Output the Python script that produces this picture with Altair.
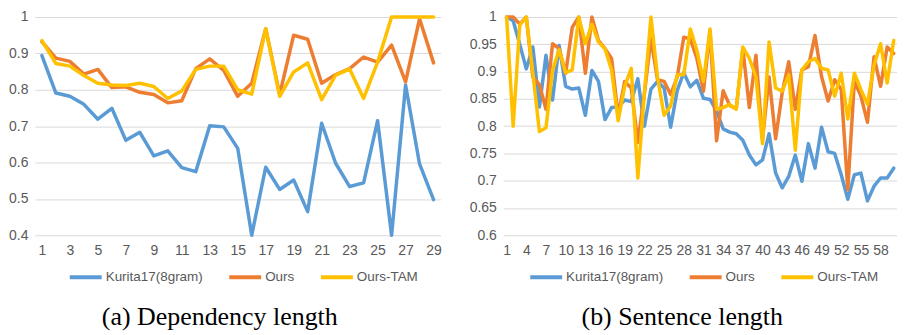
import altair as alt
import pandas as pd

series_names = ["Kurita17(8gram)", "Ours", "Ours-TAM"]
series_colors = ["#5B9BD5", "#ED7D31", "#FFC000"]

# (a) Dependency length
dep_x = list(range(1, 30))
dep_kurita = [0.894, 0.791, 0.782, 0.760, 0.719, 0.749, 0.661, 0.683, 0.618, 0.632,
              0.586, 0.575, 0.701, 0.698, 0.639, 0.400, 0.587, 0.526, 0.552, 0.465,
              0.708, 0.598, 0.534, 0.544, 0.715, 0.400, 0.813, 0.596, 0.498]
dep_ours = [0.932, 0.887, 0.878, 0.843, 0.856, 0.806, 0.808, 0.793, 0.787, 0.764,
            0.770, 0.858, 0.885, 0.853, 0.782, 0.818, 0.968, 0.787, 0.950, 0.939,
            0.818, 0.842, 0.858, 0.890, 0.876, 0.923, 0.822, 0.995, 0.874]
dep_tam = [0.935, 0.872, 0.865, 0.839, 0.818, 0.813, 0.812, 0.818, 0.809, 0.776,
           0.797, 0.856, 0.865, 0.865, 0.800, 0.788, 0.968, 0.782, 0.849, 0.874,
           0.773, 0.840, 0.857, 0.776, 0.876, 1.000, 1.000, 1.000, 1.000]
dep_x_ticks = list(range(1, 30, 2))
dep_y_ticks = [0.4, 0.5, 0.6, 0.7, 0.8, 0.9, 1.0]

# (b) Sentence length
sent_x = list(range(1, 61))
sent_kurita = [1.000, 0.993, 0.950, 0.905, 0.945, 0.835, 0.930, 0.848, 0.948, 0.873,
               0.868, 0.870, 0.820, 0.902, 0.882, 0.812, 0.834, 0.835, 0.848, 0.845,
               0.887, 0.800, 0.868, 0.882, 0.870, 0.798, 0.865, 0.898, 0.872, 0.884,
               0.851, 0.849, 0.828, 0.795, 0.789, 0.786, 0.774, 0.747, 0.729, 0.738,
               0.786, 0.714, 0.687, 0.708, 0.747, 0.699, 0.768, 0.723, 0.798, 0.753,
               0.750, 0.711, 0.666, 0.711, 0.714, 0.663, 0.690, 0.705, 0.705, 0.723]
sent_ours = [1.000, 1.000, 0.987, 1.000, 0.890, 0.876, 0.831, 0.951, 0.942, 0.897,
             0.981, 1.000, 0.897, 1.000, 0.957, 0.942, 0.924, 0.819, 0.882, 0.870,
             0.770, 0.860, 0.960, 0.885, 0.882, 0.858, 0.890, 0.963, 0.960, 0.924,
             0.864, 0.975, 0.773, 0.865, 0.838, 0.832, 0.942, 0.834, 0.930, 0.775,
             0.890, 0.777, 0.861, 0.918, 0.831, 0.903, 0.909, 0.966, 0.891, 0.846,
             0.885, 0.867, 0.684, 0.882, 0.855, 0.807, 0.927, 0.873, 0.945, 0.933]
sent_tam = [1.000, 0.800, 0.985, 1.000, 0.897, 0.790, 0.797, 0.902, 0.940, 0.898,
            0.903, 1.000, 0.951, 0.987, 0.954, 0.942, 0.903, 0.810, 0.873, 0.906,
            0.705, 0.860, 1.000, 0.890, 0.820, 0.837, 0.894, 0.894, 0.978, 0.939,
            0.882, 0.978, 0.831, 0.834, 0.840, 0.831, 0.945, 0.924, 0.890, 0.768,
            0.954, 0.870, 0.864, 0.894, 0.756, 0.903, 0.918, 0.924, 0.906, 0.903,
            0.855, 0.897, 0.813, 0.897, 0.867, 0.840, 0.912, 0.951, 0.879, 0.957]
sent_x_ticks = list(range(1, 59, 3))
sent_y_ticks = [0.6, 0.65, 0.7, 0.75, 0.8, 0.85, 0.9, 0.95, 1.0]

FONT = "Liberation Sans"
GRAY = "#595959"
GRID = "#D9D9D9"


def long_df(xs, *cols):
    rows = []
    for name, vals in zip(series_names, cols):
        for x, v in zip(xs, vals):
            rows.append({"x": x, "value": v, "series": name})
    return pd.DataFrame(rows)


def panel(df, n, xticks, yticks, ydomain, yfmt, width, caption, legend_x):
    color = alt.Color(
        "series:N",
        scale=alt.Scale(domain=series_names, range=series_colors),
        legend=alt.Legend(
            title=None, orient="none", direction="horizontal",
            legendX=legend_x, legendY=243, symbolType="stroke",
            symbolSize=1024, symbolStrokeWidth=4, labelFont=FONT,
            labelFontSize=13.5, labelColor=GRAY, columnPadding=18,
            labelOffset=2, padding=0,
        ),
    )
    x = alt.X(
        "x:Q",
        scale=alt.Scale(domain=[0.5, n + 0.5], nice=False, zero=False),
        axis=alt.Axis(values=xticks, title=None, grid=False, domain=False,
                      ticks=False, labelPadding=8, labelFontSize=14,
                      labelColor=GRAY, labelFont=FONT, labelOverlap=False,
                      labelFlush=False, format="d"),
    )
    y = alt.Y(
        "value:Q",
        scale=alt.Scale(domain=ydomain, nice=False, zero=False),
        axis=alt.Axis(values=yticks, format=yfmt, title=None, domain=False,
                      ticks=False, gridColor=GRID, gridWidth=1, labelPadding=7,
                      labelFontSize=14, labelColor=GRAY, labelFont=FONT,
                      labelOverlap=False),
    )
    layers = []
    for name in series_names:
        layers.append(
            alt.Chart(df)
            .transform_filter(alt.datum.series == name)
            .mark_line(strokeWidth=3.5, strokeJoin="round", strokeCap="round")
            .encode(x=x, y=y, color=color)
        )
    return alt.layer(*layers).properties(
        width=width, height=219,
        title=alt.TitleParams(caption, orient="bottom", anchor="middle",
                              frame="group", font="Liberation Serif",
                              fontSize=26, fontWeight="normal", color="black",
                              offset=19, dx=-18),
    )


dep_df = long_df(dep_x, dep_kurita, dep_ours, dep_tam)
sent_df = long_df(sent_x, sent_kurita, sent_ours, sent_tam)

pa = panel(dep_df, 29, dep_x_ticks, dep_y_ticks, [0.4, 1.0], ".1~f", 407,
           "(a) Dependency length", 33)
pb = panel(sent_df, 60, sent_x_ticks, sent_y_ticks, [0.6, 1.0], ".2~f", 395,
           "(b) Sentence length", 25)

chart = (
    alt.hconcat(pa, pb, spacing=63, bounds="flush")
    .resolve_scale(color="independent")
    .resolve_legend(color="independent")
    .properties(padding={"left": 0, "top": 1.5, "right": 0, "bottom": 0})
    .configure_view(stroke=None)
)

chart.save("out.html", embed_options={"renderer": "svg", "actions": False})
